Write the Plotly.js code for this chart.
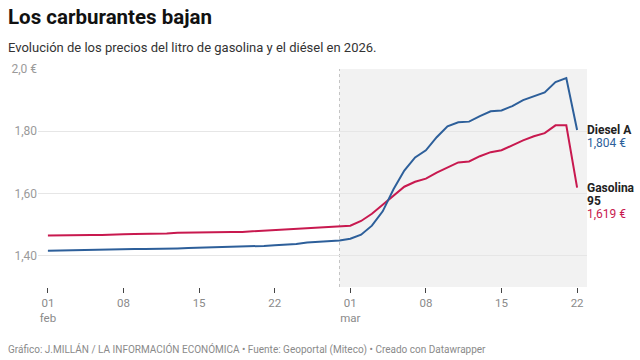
<!DOCTYPE html>
<html>
<head>
<meta charset="utf-8">
<script src="https://cdn.plot.ly/plotly-3.0.1.min.js"></script>
<style>
html,body{margin:0;padding:0;background:#fff;}
#chart{width:640px;height:360px;}
</style>
</head>
<body>
<div id="chart"></div>
<script>
// Dates: 1 Feb 2026 .. 22 Mar 2026 (daily)
const startDate = "2026-02-01";
const nDays = 50;

const dieselA = [
  1.416, 1.417, 1.418, 1.419, 1.419, 1.419, 1.420, 1.421, 1.422, 1.422,
  1.422, 1.423, 1.424, 1.425, 1.426, 1.426, 1.426, 1.427, 1.428, 1.429,
  1.432, 1.434, 1.436, 1.438, 1.443, 1.445, 1.446, 1.449,
  1.455, 1.468, 1.497, 1.543, 1.614, 1.674, 1.716, 1.739, 1.781, 1.816,
  1.829, 1.831, 1.849, 1.864, 1.867, 1.881, 1.900, 1.913, 1.925, 1.958,
  1.971, 1.804
];
const gasolina95 = [
  1.465, 1.466, 1.467, 1.467, 1.467, 1.467, 1.467, 1.469, 1.470, 1.470,
  1.470, 1.472, 1.474, 1.475, 1.476, 1.476, 1.476, 1.477, 1.477, 1.479,
  1.482, 1.483, 1.485, 1.488, 1.491, 1.493, 1.494, 1.495,
  1.497, 1.512, 1.535, 1.564, 1.594, 1.622, 1.638, 1.648, 1.667, 1.683,
  1.700, 1.703, 1.720, 1.733, 1.739, 1.755, 1.771, 1.784, 1.794, 1.819,
  1.819, 1.619
];

const xTickVals = ["2026-02-01","2026-02-08","2026-02-15","2026-02-22","2026-03-01","2026-03-08","2026-03-15","2026-03-22"];
const xTickText = ["01<br>feb","08","15","22","01<br>mar","08","15","22"];
const yTickVals = [1.4, 1.6, 1.8, 2.0];
const yTickText = ["1,40","1,60","1,80","2,0 €"];

const shadeStart = "2026-02-28";
const xRange = ["2026-01-31 02:00", "2026-03-22 22:00"];
const yRange = [1.30, 2.0];

function dayStr(i){
  const d = new Date(Date.UTC(2026,1,1+i));
  return d.toISOString().slice(0,10);
}
const dates = [];
for (let i=0;i<nDays;i++) dates.push(dayStr(i));

const blue = "#2d5f9a";
const red = "#c8194f";

const traces = [
  {x: dates, y: gasolina95, type:"scatter", mode:"lines", name:"Gasolina 95",
   line:{color:red, width:2}, hoverinfo:"skip"},
  {x: dates, y: dieselA, type:"scatter", mode:"lines", name:"Diesel A",
   line:{color:blue, width:2}, hoverinfo:"skip"}
];

const fmt = v => v.toFixed(3).replace(".", ",") + " €";
const lastD = dieselA[dieselA.length-1];
const lastG = gasolina95[gasolina95.length-1];
const labFont = {family:"Roboto, sans-serif", size:12, color:"#222"};
const lineGap = 13;

const layout = {
  width:640, height:360,
  margin:{l:38, r:53, t:69, b:73},
  paper_bgcolor:"#fff", plot_bgcolor:"#fff",
  showlegend:false,
  font:{family:"Roboto, sans-serif"},
  title:{text:"<b>Los carburantes bajan</b>", x:8/640, xref:"container", xanchor:"left",
         y:1-17/360, yref:"container", yanchor:"middle",
         font:{family:"Roboto, sans-serif", size:20.5, color:"#111"}},
  xaxis:{type:"date", range:xRange, tickvals:xTickVals, ticktext:xTickText,
         showgrid:false, zeroline:false, showline:false,
         ticks:"outside", ticklen:5, tickcolor:"#444", tickwidth:1,
         tickfont:{family:"Roboto, sans-serif", size:11.5, color:"#8a8a8a"}},
  yaxis:{range:yRange, tickvals:yTickVals, ticktext:yTickText,
         showgrid:true, gridcolor:"#e6e6e6", gridwidth:1, zeroline:false, showline:false,
         ticks:"", tickfont:{family:"Roboto, sans-serif", size:12, color:"#9a9a9a"}},
  shapes:[
    {type:"rect", xref:"x", yref:"paper", x0:shadeStart, x1:xRange[1], y0:0, y1:1,
     fillcolor:"#f2f2f2", line:{width:0}, layer:"below"},
    {type:"line", xref:"x", yref:"paper", x0:shadeStart, x1:shadeStart, y0:0, y1:1,
     line:{color:"#c4c4c4", width:1, dash:"dot"}, layer:"below"}
  ],
  annotations:[
    {text:"Evolución de los precios del litro de gasolina y el diésel en 2026.",
     xref:"paper", yref:"paper", x:0, y:1, xanchor:"left", yanchor:"middle",
     xshift:-32, yshift:22, showarrow:false,
     font:{family:"Roboto, sans-serif", size:13, color:"#333"}},
    {text:"Gráfico: J.MILLÁN / LA INFORMACIÓN ECONÓMICA • Fuente: Geoportal (Miteco) • Creado con Datawrapper",
     xref:"paper", yref:"paper", x:0, y:0, xanchor:"left", yanchor:"middle",
     xshift:-32, yshift:-62, showarrow:false,
     font:{family:"Roboto, sans-serif", size:10, color:"#8a8a8a"}},
    {text:"<b>Diesel A</b>", xref:"paper", yref:"y", x:1, y:lastD, xanchor:"left", yanchor:"middle",
     xshift:-2, showarrow:false, font:labFont},
    {text:fmt(lastD), xref:"paper", yref:"y", x:1, y:lastD, xanchor:"left", yanchor:"middle",
     xshift:-2, yshift:-lineGap, showarrow:false, font:{family:"Roboto, sans-serif", size:12, color:blue}},
    {text:"<b>Gasolina</b>", xref:"paper", yref:"y", x:1, y:lastG, xanchor:"left", yanchor:"middle",
     xshift:-2, showarrow:false, font:labFont},
    {text:"<b>95</b>", xref:"paper", yref:"y", x:1, y:lastG, xanchor:"left", yanchor:"middle",
     xshift:-2, yshift:-lineGap, showarrow:false, font:labFont},
    {text:fmt(lastG), xref:"paper", yref:"y", x:1, y:lastG, xanchor:"left", yanchor:"middle",
     xshift:-2, yshift:-2*lineGap, showarrow:false, font:{family:"Roboto, sans-serif", size:12, color:red}}
  ]
};

Plotly.newPlot("chart", traces, layout, {staticPlot:true, displayModeBar:false});
</script>
</body>
</html>
